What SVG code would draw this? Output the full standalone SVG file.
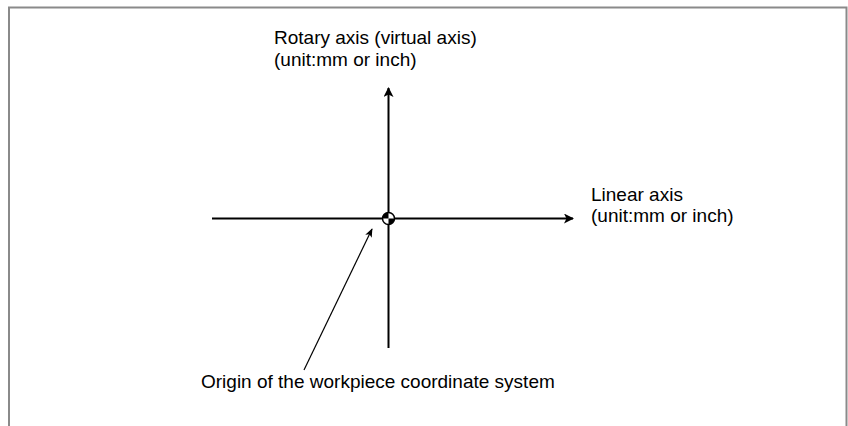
<svg xmlns="http://www.w3.org/2000/svg" width="848" height="426" viewBox="0 0 848 426">
<style>
.t{font-family:"Liberation Sans",Arial,sans-serif;font-size:19px;fill:#000}
.ax{stroke:#000;stroke-width:2;fill:none}
.ld{stroke:#000;stroke-width:1.2;fill:none}
</style>
<defs>
<marker id="ah" viewBox="0 0 10 10" refX="9" refY="5" markerWidth="10" markerHeight="10" markerUnits="userSpaceOnUse" orient="auto">
<path d="M0,0 L10,5 L0,10 L2.5,5 Z" fill="#000"/>
</marker>
<marker id="ah2" viewBox="0 0 10 10" refX="9" refY="5" markerWidth="9" markerHeight="9" markerUnits="userSpaceOnUse" orient="auto">
<path d="M0,1 L10,5 L0,9 L2.5,5 Z" fill="#000"/>
</marker>
</defs>
<path d="M9,426 V7.5 H846.5 V426" fill="none" stroke="#8a8a8a" stroke-width="2"/>
<g id="connectors">
<line class="ax" x1="388.5" y1="348" x2="388.5" y2="88" marker-end="url(#ah)"/>
<line class="ax" x1="212" y1="218.5" x2="573" y2="218.5" marker-end="url(#ah)"/>
<line class="ld" x1="304" y1="370" x2="372" y2="229" marker-end="url(#ah2)"/>
</g>
<g id="origin">
<circle cx="388.5" cy="218.5" r="6" fill="#fff" stroke="#000" stroke-width="1.5"/>
<path d="M388.5,218.5 L382.5,218.5 A6,6 0 0 1 388.5,212.5 Z" fill="#000"/>
<path d="M388.5,218.5 L394.5,218.5 A6,6 0 0 1 388.5,224.5 Z" fill="#000"/>
</g>
<g id="rotary-label">
<text class="t" x="274" y="44">Rotary axis (virtual axis)</text>
<text class="t" x="274" y="66">(unit:mm or inch)</text>
</g>
<g id="linear-label">
<text class="t" x="591" y="201">Linear axis</text>
<text class="t" x="591" y="222">(unit:mm or inch)</text>
</g>
<g id="origin-label">
<text class="t" x="201" y="388">Origin of the workpiece coordinate system</text>
</g>
</svg>
